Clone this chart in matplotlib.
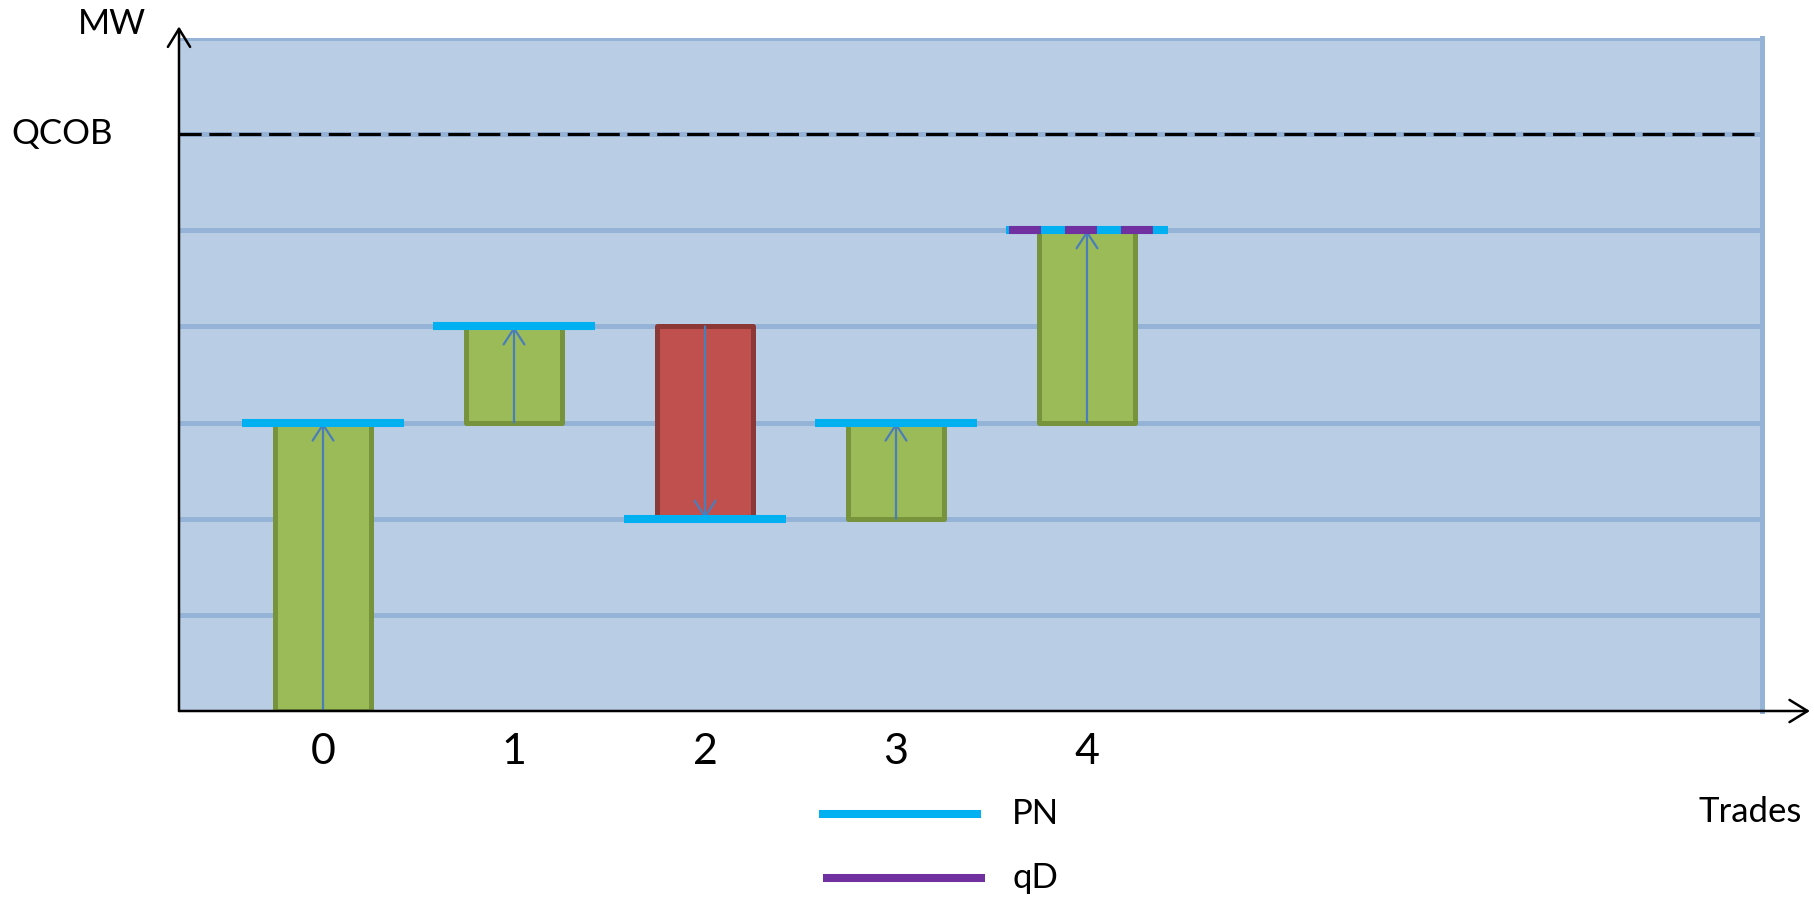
import matplotlib
matplotlib.use("Agg")
import matplotlib.pyplot as plt
from matplotlib.lines import Line2D

plt.rcParams['font.family'] = ['Lato', 'DejaVu Sans']
plt.rcParams['lines.scale_dashes'] = False

# data
trades = [0, 1, 2, 3, 4]
start_mw = [0, 3, 4, 2, 3]
end_mw = [3, 4, 2, 3, 5]
qd_trades = [4]
qd_mw = [5]
qcob = 6
grid_levels = [1, 2, 3, 4, 5, 6, 7]

W, H = 1814, 897
fig = plt.figure(figsize=(W / 100, H / 100), dpi=100)

def px(x, y):
    return x / W, 1 - y / H

# axes box in pixels: left 179, right 1762, top 38, bottom 711
ax = fig.add_axes([179 / W, 1 - 711 / H, (1762 - 179) / W, (711 - 38) / H])
ax.set_facecolor('#B9CDE5')
ax.set_xlim(-0.754, 7.534)
ax.set_ylim(0, 7)
for s in ax.spines.values():
    s.set_visible(False)

bg_line = '#95B3D7'
for g in grid_levels:
    ax.axhline(g, color=bg_line, lw=3.6, zorder=1)
ax.axvline(7.534, color=bg_line, lw=3.6, zorder=1, clip_on=False)

# QCOB dashed line
ax.axhline(qcob, xmax=0.9965, color='black', lw=2.3, dashes=(16, 5.5), zorder=2)

# bars
heights = [e - s for s, e in zip(start_mw, end_mw)]
face = ['#9BBB59' if h > 0 else '#C0504D' for h in heights]
edge = ['#77933C' if h > 0 else '#8C3836' for h in heights]
ax.bar(trades, heights, bottom=start_mw, width=0.5, color=face, edgecolor=edge,
       linewidth=3.6, joinstyle='round', zorder=3)

# arrows inside bars
for t, s, e in zip(trades, start_mw, end_mw):
    ax.annotate('', xy=(t, e), xytext=(t, s),
                arrowprops=dict(arrowstyle='->,head_length=1.15,head_width=0.75',
                                color='#4A7EBB', lw=1.6, shrinkA=0, shrinkB=0),
                zorder=4)

# PN lines
ax.hlines(end_mw, [t - 0.424 for t in trades], [t + 0.424 for t in trades],
          color='#00B0F0', lw=5.8, zorder=5, capstyle='butt')
# qD lines (dashed over PN)
ax.hlines(qd_mw, [t - 0.41 for t in qd_trades], [t + 0.43 for t in qd_trades],
          color='#7030A0', lw=5.8, zorder=6, linestyles=[(0, (23, 17.3))])

# ticks
ax.set_yticks([])
ax.set_xticks(trades)
ax.set_xticklabels([str(t) for t in trades], fontsize=31)
ax.tick_params(axis='x', length=0, pad=16)

# axis arrows
ax.annotate('', xy=(-0.754, 7.12), xytext=(-0.754, 0), xycoords='data',
            arrowprops=dict(arrowstyle='->,head_length=1.3,head_width=0.8',
                            color='black', lw=1.8, shrinkA=0, shrinkB=0),
            annotation_clip=False, zorder=7)
ax.annotate('', xy=(7.785, 0), xytext=(-0.754, 0), xycoords='data',
            arrowprops=dict(arrowstyle='->,head_length=1.3,head_width=0.8',
                            color='black', lw=1.8, shrinkA=0, shrinkB=0),
            annotation_clip=False, zorder=7)

# labels
fig.text(*px(112, 24), 'MW', fontsize=25, ha='center', va='center')
fig.text(*px(62, 134), 'QCOB', fontsize=25, ha='center', va='center')
fig.text(*px(1750, 812), 'Trades', fontsize=25, ha='center', va='center')

# legend
for (x0, x1, y), col, lab in [((819, 981, 814), '#00B0F0', 'PN'),
                              ((823, 985, 878), '#7030A0', 'qD')]:
    fig.add_artist(Line2D([x0 / W, x1 / W], [1 - y / H, 1 - y / H],
                          transform=fig.transFigure, color=col, lw=5.8,
                          solid_capstyle='butt'))
    fig.text(*px(1012, y), lab, fontsize=25, ha='left', va='center')

fig.savefig('out.png', dpi=100)
